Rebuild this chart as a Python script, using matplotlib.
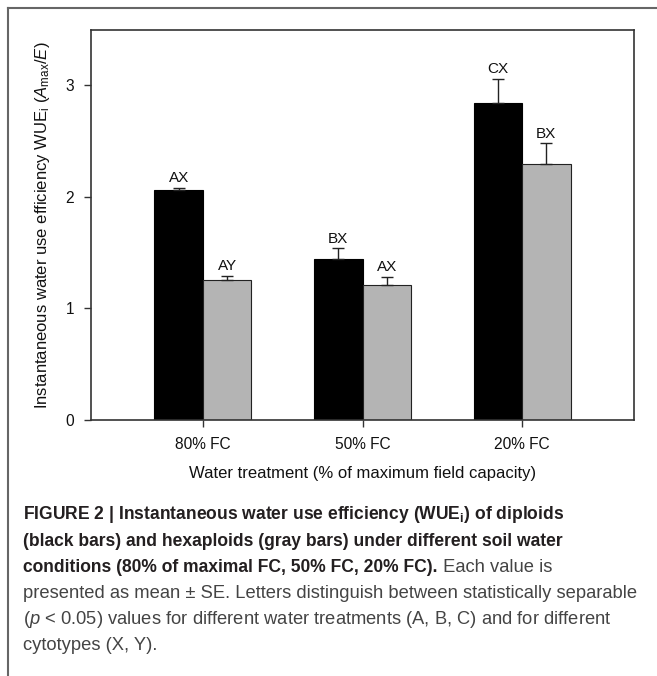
import matplotlib
matplotlib.use('Agg')
import matplotlib.pyplot as plt
from matplotlib import font_manager
from matplotlib.lines import Line2D
import numpy as np

# ---------------- data ----------------
categories = ['80% FC', '50% FC', '20% FC']
diploid_mean = [2.06, 1.445, 2.84]
diploid_se = [0.02, 0.09, 0.215]
hexaploid_mean = [1.255, 1.21, 2.29]
hexaploid_se = [0.032, 0.068, 0.185]
diploid_letters = ['AX', 'BX', 'CX']
hexaploid_letters = ['AY', 'AX', 'BX']
yticks = [0, 1, 2, 3]

plt.rcParams['font.family'] = ['Liberation Sans', 'DejaVu Sans']
plt.rcParams['mathtext.fontset'] = 'custom'
plt.rcParams['mathtext.rm'] = 'Liberation Sans'
plt.rcParams['mathtext.it'] = 'Liberation Sans:italic'
plt.rcParams['mathtext.bf'] = 'Liberation Sans:bold'

W, H = 657, 676
fig = plt.figure(figsize=(W / 100, H / 100), dpi=100)

# outer frame (top and left lines)
fig.add_artist(Line2D([8 / W, 1], [1 - 8 / H, 1 - 8 / H], color='#666666', lw=1.5))
fig.add_artist(Line2D([8 / W, 8 / W], [0, 1 - 8 / H], color='#666666', lw=1.5))

ax = fig.add_axes([91 / W, 1 - 420 / H, (634 - 91) / W, (420 - 30) / H])
x = np.arange(len(categories))
bw = 0.304
ax.bar(x - bw / 2, diploid_mean, bw, color='black', edgecolor='black', linewidth=0.8, zorder=2)
ax.bar(x + bw / 2, hexaploid_mean, bw, color='#b4b4b4', edgecolor='#222222', linewidth=0.8, zorder=2)
ax.errorbar(x - bw / 2, diploid_mean, yerr=[np.zeros(3), diploid_se], fmt='none',
            ecolor='#222222', elinewidth=1, capsize=4.3, capthick=1, zorder=3)
ax.errorbar(x + bw / 2, hexaploid_mean, yerr=[np.zeros(3), hexaploid_se], fmt='none',
            ecolor='#222222', elinewidth=1, capsize=4.3, capthick=1, zorder=3)
for xi, m, s, lab in zip(x - bw / 2, diploid_mean, diploid_se, diploid_letters):
    ax.annotate(lab, xy=(xi, m + s), xytext=(0, 2), textcoords='offset points',
                ha='center', va='bottom', fontsize=11, color='#111111')
for xi, m, s, lab in zip(x + bw / 2, hexaploid_mean, hexaploid_se, hexaploid_letters):
    ax.annotate(lab, xy=(xi, m + s), xytext=(0, 2), textcoords='offset points',
                ha='center', va='bottom', fontsize=11, color='#111111')

ax.set_xlim(-0.702, 2.702)
ax.set_ylim(0, 3.49)
ax.set_xticks(x)
ax.set_xticklabels(categories)
ax.set_yticks(yticks)
ax.tick_params(axis='both', direction='out', length=5, width=1, color='#333333',
               labelsize=11.2, labelcolor='#111111')
ax.tick_params(axis='y', pad=7)
ax.tick_params(axis='x', pad=7)
for sp in ax.spines.values():
    sp.set_linewidth(1.2)
    sp.set_color('#333333')
ax.set_ylabel(r'Instantaneous water use efficiency WUE$_\mathregular{i}$ ($\mathit{A}_\mathregular{max}$/$\mathit{E}$)',
              fontsize=12, color='#111111', labelpad=10)
ax.set_xlabel('Water treatment (% of maximum field capacity)', fontsize=12, color='#111111', labelpad=10)

# ---------------- caption ----------------
try:
    font_manager.findfont(font_manager.FontProperties(family='Liberation Sans Narrow'),
                          fallback_to_default=False)
    capfam = 'Liberation Sans Narrow'
except Exception:
    capfam = 'Liberation Sans'

renderer = fig.canvas.get_renderer()
BOLDC = '#231f20'
REGC = '#444444'


def width_of(s, size, weight):
    t = fig.text(0, 0, s, fontsize=size, fontweight=weight, family=capfam)
    w = t.get_window_extent(renderer).width
    t.remove()
    return w

left_px = 23
bold_size = 12 * (565 - left_px) / width_of(
    r'FIGURE 2 | Instantaneous water use efficiency (WUE$_\mathbf{i}$) of diploids', 12, 'bold')
reg_size = 12 * (640 - left_px) / width_of(
    'presented as mean \u00b1 SE. Letters distinguish between statistically separable', 12, 'normal')

lines = [
    [(r'FIGURE 2 | Instantaneous water use efficiency (WUE$_\mathbf{i}$) of diploids', 'bold')],
    [('(black bars) and hexaploids (gray bars) under different soil water', 'bold')],
    [('conditions (80% of maximal FC, 50% FC, 20% FC).', 'bold'), (' Each value is', 'normal')],
    [('presented as mean \u00b1 SE. Letters distinguish between statistically separable', 'normal')],
    [(r'($\mathit{p}$ < 0.05) values for different water treatments (A, B, C) and for different', 'normal')],
    [('cytotypes (X, Y).', 'normal')],
]
baselines = [519, 546, 572, 598, 624, 650]
for segs, yb in zip(lines, baselines):
    xp = left_px
    for s, wt in segs:
        size = bold_size if wt == 'bold' else reg_size
        col = BOLDC if wt == 'bold' else REGC
        t = fig.text(xp / W, 1 - yb / H, s, fontsize=size, fontweight=wt, family=capfam,
                     color=col, ha='left', va='baseline')
        xp += t.get_window_extent(renderer).width

fig.savefig('out.png', dpi=100)
